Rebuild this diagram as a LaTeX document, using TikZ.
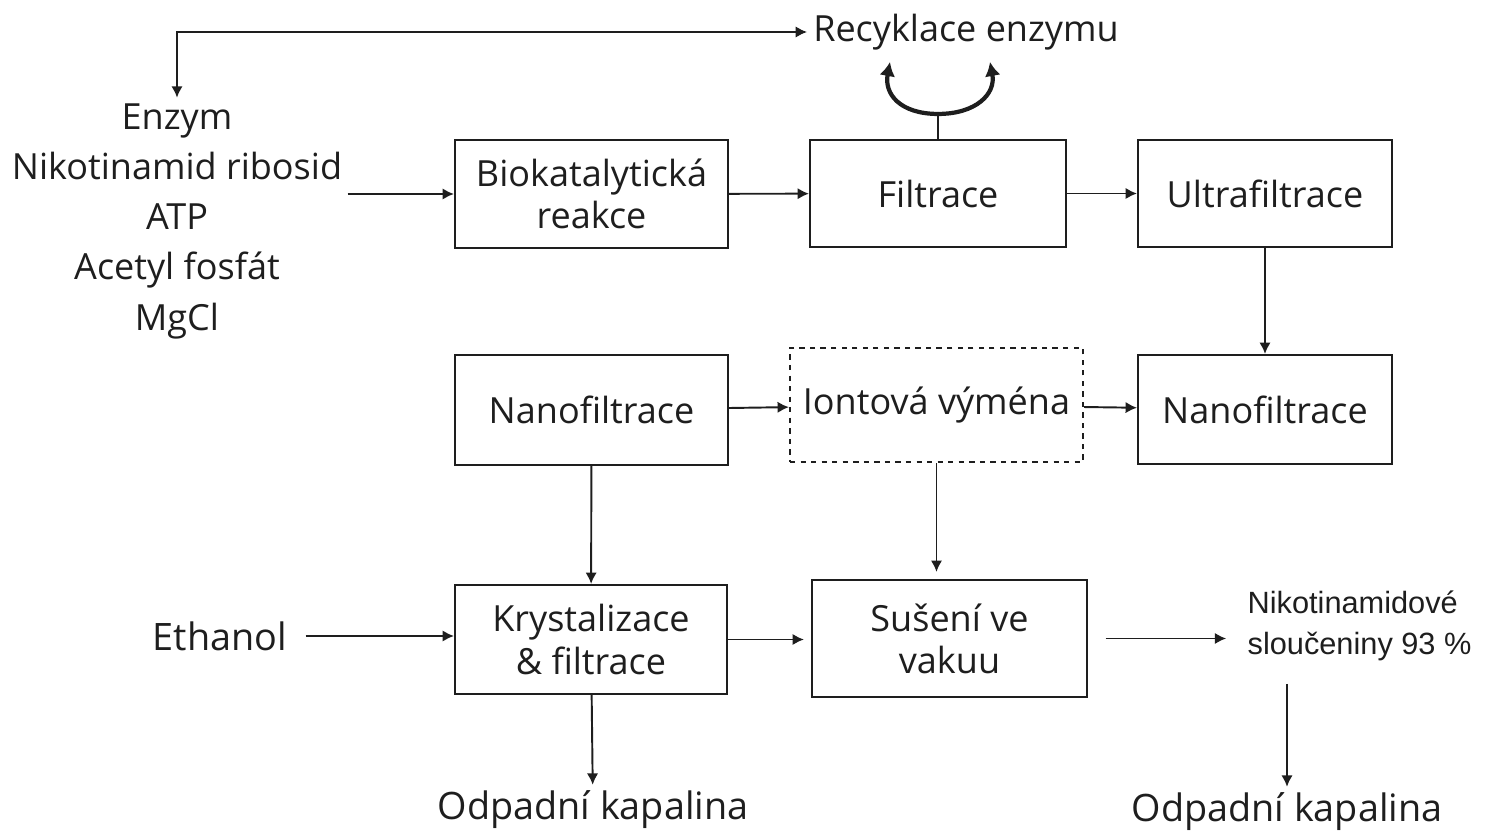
\documentclass[tikz,border=0pt]{standalone}
\usepackage{fontspec}
\setmainfont{Open Sans}
\newfontfamily\arialfont{Liberation Sans}
\usetikzlibrary{arrows.meta}
\definecolor{ink}{HTML}{1E1E1E}
\tikzset{
  procbox/.style={draw=ink, line width=1.2pt, align=center, text=ink,
    font=\fontsize{20.5}{24}\selectfont, inner sep=2pt},
  plain/.style={align=center, text=ink, font=\fontsize{20.5}{24}\selectfont},
  flow/.style={draw=ink, line width=1.1pt, -{Latex[length=6.5pt,width=6.5pt]}},
  curl/.style={draw=ink, line width=2.4pt, -{Latex[length=8pt,width=9pt]}},
}
\begin{document}
\begin{tikzpicture}[x=0.02cm, y=-0.02cm]
% Page frame (1485 x 834 px)
\useasboundingbox (0,0) rectangle (1485,834);

% Inputs and outputs
\node[plain] (recyk) at (966,32) {Recyklace enzymu};
\node[plain, font=\fontsize{20.5}{28.6}\selectfont, inner sep=3pt] (inputs) at (177,221)
  {Enzym\\Nikotinamid ribosid\\ATP\\Acetyl fosfát\\MgCl};
\node[plain, font=\fontsize{21.5}{24}\selectfont] (ethanol) at (220,636) {Ethanol};
\node[anchor=west, align=left, text=ink, inner sep=3pt,
  font=\arialfont\fontsize{17.5}{23}\selectfont] (nik) at (1242,626)
  {Nikotinamidové\\sloučeniny 93 \%};
\node[plain, font=\fontsize{21.5}{24}\selectfont] (odpL) at (593,810) {Odpadní kapalina};
\node[plain, font=\fontsize{21.5}{24}\selectfont] (odpR) at (1287,812) {Odpadní kapalina};

% Process boxes
\node[procbox, minimum width=5.46cm, minimum height=2.16cm] (bio) at (591.5,194) {Biokatalytická\\reakce};
\node[procbox, minimum width=5.12cm, minimum height=2.14cm] (filt) at (938,193.5) {Filtrace};
\node[procbox, minimum width=5.08cm, minimum height=2.14cm] (ultra) at (1265,193.5) {Ultrafiltrace};
\node[procbox, minimum width=5.46cm, minimum height=2.2cm] (nanoL) at (591.5,410) {Nanofiltrace};
\node[procbox, dashed, minimum width=5.86cm, minimum height=2.28cm] (ion) at (936.5,405) {Iontová výména};
\node[procbox, minimum width=5.08cm, minimum height=2.18cm] (nanoR) at (1265,409.5) {Nanofiltrace};
\node[procbox, minimum width=5.44cm, minimum height=2.18cm] (kryst) at (591,639.5) {Krystalizace\\\& filtrace};
\node[procbox, minimum width=5.5cm, minimum height=2.34cm] (suseni) at (949.5,638.5) {Sušení ve\\vakuu};

% Enzyme recycling
\draw[flow, {Latex[length=6.5pt,width=6.5pt]}-{Latex[length=6.5pt,width=6.5pt]}] (inputs.north) |- (recyk.west);
\draw[draw=ink, line width=1.1pt] (filt.north) -- ++(0,-25) coordinate (split);
\draw[curl] (split) .. controls +(-38,0) and +(-6,32) .. ++(-48,-52);
\draw[curl] (split) .. controls +(38,0) and +(6,32) .. ++(52,-52);

% Main flow
\draw[flow] (inputs.east |- bio.west) -- (bio.west);
\draw[flow] (bio) -- (filt);
\draw[flow] (filt) -- (ultra);
\draw[flow] (ultra) -- (nanoR);
\draw[flow] (nanoL) -- (ion);
\draw[flow] (ion) -- (nanoR);
\draw[flow] (nanoL) -- (kryst);
\draw[flow, shorten >=4pt] (ion.south) -- (ion.south |- suseni.north);
\draw[flow, shorten <=7pt] (ethanol.east) -- (ethanol.east -| kryst.west);
\draw[flow, shorten >=4pt] (kryst.east) -- (kryst.east -| suseni.west);
\draw[flow, shorten <=10pt, shorten >=9pt] (suseni.east) -- (suseni.east -| nik.west);
\draw[flow] (kryst) -- (odpL);
\draw[flow, shorten <=10pt] (odpR.north |- nik.south) -- (odpR.north);
\end{tikzpicture}
\end{document}
